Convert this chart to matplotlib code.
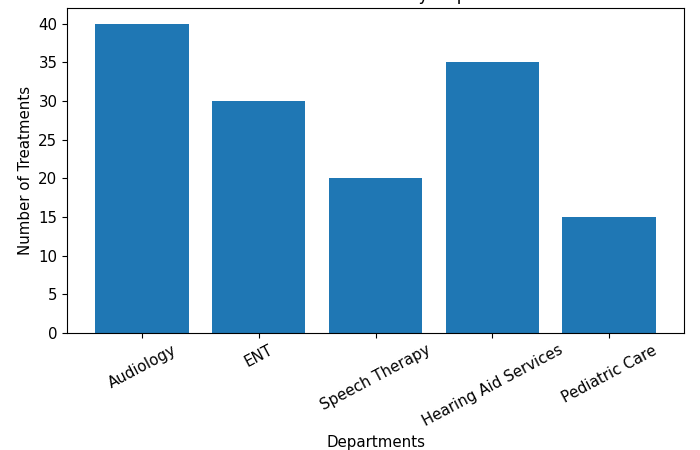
import matplotlib
matplotlib.use("Agg")
import matplotlib.pyplot as plt

departments = ["Audiology", "ENT", "Speech Therapy", "Hearing Aid Services", "Pediatric Care"]
treatments = [40, 30, 20, 35, 15]

fig, ax = plt.subplots(figsize=(7, 4.5), dpi=100)
ax.bar(departments, treatments, color="#1f77b4")
ax.set_title("Number of Treatments by Department", fontsize=12)
ax.set_xlabel("Departments", fontsize=10.8)
ax.set_ylabel("Number of Treatments", fontsize=10.8)
ax.tick_params(axis="both", labelsize=10.8)
plt.setp(ax.get_xticklabels(), rotation=28)
fig.subplots_adjust(left=0.096, right=0.977, top=0.982, bottom=0.26)
fig.savefig("out.png")
